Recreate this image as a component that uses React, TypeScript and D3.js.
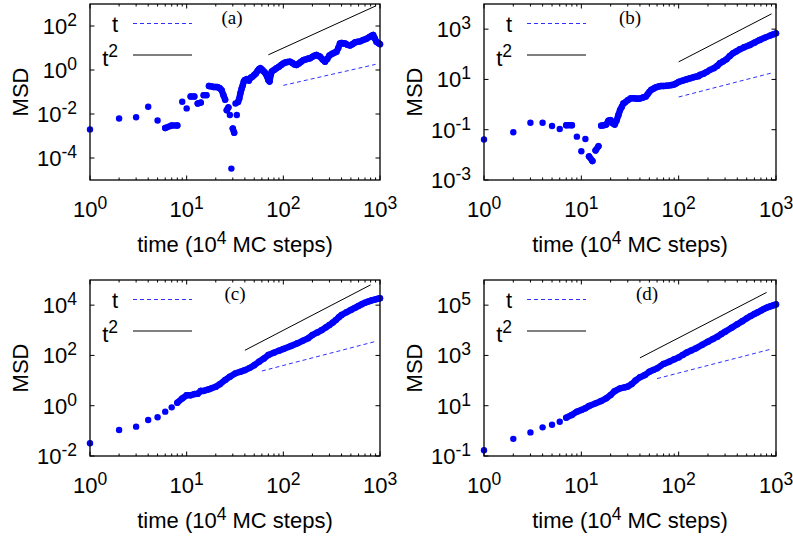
import React from 'react';
import * as d3 from 'd3';

// ---------------- data ----------------
const tA = [1,2,3,4,5,6,7,8,9,10,11,12,13,14,15,16,17,18,19,20,21,22,23,24,25,26,27,28,29,30,31,32,33,34,35,36,37,38,39,40,42,44,46,48,50,52,54,56,58,60,62,64,66,68,70,72,74,76,80,85,90,95,100,105,110,117,124,130,137,145,153,161,170,180,189,200,210,220,230,240,255,270,285,300,320,340,355,370,385,400,420,435,460,490,520,550,580,620,670,720,780,820,850,880,920,960,1000];
const msdA = [0.002,0.0062,0.0071,0.0215,0.0051,0.0023,0.003,0.003,0.036,0.018,0.062,0.062,0.03,0.033,0.072,0.072,0.187,0.18,0.17,0.17,0.165,0.148,0.12,0.072,0.045,0.015,0.02,0.009,3.3e-5,0.0022,0.0014,0.03,0.009,0.035,0.05,0.09,0.14,0.2,0.3,0.35,0.38,0.33,0.45,0.5,0.6,0.7,0.9,1.1,1.2,1.05,0.9,0.8,0.65,0.5,0.35,0.3,0.6,0.85,1.0,1.2,1.4,1.7,2.0,2.2,2.3,2.4,2.1,1.8,1.7,2.0,2.4,2.8,3.0,3.3,3.4,4.0,4.5,4.8,4.4,4.0,3.0,2.4,3.2,4.6,5.5,6.2,6.8,10,16,17,16,16,14,13,15,18,19,20,23,26,32,36,39,28,19,17,15];

const tB = [1,2,3,4,5,6,7,8,9,10,11,12,13,14,15,16,17,18,19,20,21,22,23,24,25,26,27,28,30,32,34,36,38,40,43,46,48,50,52,55,58,62,66,70,75,80,85,90,95,100,110,120,130,140,150,160,165,180,195,210,230,250,265,285,310,335,360,390,425,470,540,600,680,770,870,940,1000];
const msdB = [0.041,0.079,0.19,0.19,0.14,0.107,0.15,0.15,0.053,0.014,0.043,0.0087,0.0057,0.015,0.022,0.145,0.15,0.16,0.23,0.24,0.18,0.16,0.23,0.38,0.61,0.8,1.1,1.2,1.5,1.75,1.8,1.75,1.7,1.75,1.9,2.1,2.6,3.2,3.8,4.3,4.8,5.2,5.5,5.5,5.6,5.8,6.0,6.3,7.0,8.0,9.0,10,11,12,12.8,13.5,15,17,20,24,28,35,44,52,63,85,109,130,158,190,235,290,371,460,553,620,680];

const tC = [1,2,3,4,5,6,7,8,9,10,11,12,13,14,15,16,17,18,20,22,25,28,32,36,40,45,50,56,63,70,80,90,100,120,140,160,180,200,225,250,275,300,325,350,375,400,450,500,550,600,650,700,750,800,850,900,950,1000];
const msdC = [0.032,0.108,0.147,0.27,0.35,0.58,0.86,1.32,1.95,2.6,2.6,2.9,3.0,3.85,3.9,4.2,4.5,4.9,5.7,7.1,10.5,14.3,19.4,22.6,26,32,41,56,76,104,129,155,181,237,303,388,478,650,820,1020,1300,1620,2050,2570,3300,4070,5200,6450,7800,9300,10900,12500,13800,15100,16000,17000,17900,18700];

const tD = [1,2,3,4,5,6,7,8,9,10,11,12,14,16,18,20,22,25,28,30,33,36,40,45,50,55,60,70,80,90,100,110,120,135,150,175,200,225,250,275,300,350,400,450,500,550,600,650,700,750,800,850,900,950,1000];
const msdD = [0.17,0.48,0.87,1.38,1.76,2.3,3.35,4.3,5.8,6.8,7.9,9.8,12.4,15.4,19.6,26.7,38,49,54,58,73,100,135,166,225,265,306,460,565,700,835,1050,1280,1580,1910,2650,3530,4500,5590,7100,8820,12600,17300,23000,29900,37000,44500,52000,60400,70000,79000,86000,92900,100000,107000];

// reference power laws: msd = coef * t^power, drawn from tStart to tEnd
const refT_A = { coef: 0.002, tStart: 100, tEnd: 900 };
const refT2_A = { coef: 0.001, tStart: 70, tEnd: 900 };
const refT_B = { coef: 0.02, tStart: 100, tEnd: 900 };
const refT2_B = { coef: 0.005, tStart: 100, tEnd: 900 };
const refT_C = { coef: 0.4, tStart: 60, tEnd: 900 };
const refT2_C = { coef: 0.1, tStart: 40, tEnd: 800 };
const refT_D = { coef: 2, tStart: 60, tEnd: 900 };
const refT2_D = { coef: 0.5, tStart: 40, tEnd: 800 };

const xTickExps = [0, 1, 2, 3];
const yTickExpsA = [-4, -2, 0, 2];
const yTickExpsB = [-3, -1, 1, 3];
const yTickExpsC = [-2, 0, 2, 4];
const yTickExpsD = [-1, 1, 3, 5];

const panelLabels = ['(a)', '(b)', '(c)', '(d)'];
const legendLabels = ['t', 't2'];
const xAxisTitle = ['time (10', '4', ' MC steps)'];
const yAxisTitle = 'MSD';

// ---------------- drawing ----------------
const SANS = "'Liberation Sans', Arial, Helvetica, sans-serif";
const SERIF = "'Liberation Serif', 'Times New Roman', serif";
const DOT = '#0000ff';
const DASH = '#3030ff';
const FS = 22;
const FSS = 17.5;

type Ref = { coef: number; tStart: number; tEnd: number };
type PanelSpec = {
  left: number; right: number; top: number; bottom: number;
  yDom: [number, number];
  t: number[]; msd: number[];
  yTicks: number[];
  refT: Ref; refT2: Ref;
  label: string; labelX: number;
  joinFrom: number;
};

const panels: PanelSpec[] = [
  { left: 90, right: 380, top: 4, bottom: 180, yDom: [1e-5, 1e3], t: tA, msd: msdA, yTicks: yTickExpsA, refT: refT_A, refT2: refT2_A, label: panelLabels[0], labelX: 232, joinFrom: 36 },
  { left: 484, right: 776, top: 4, bottom: 180, yDom: [1e-3, 1e4], t: tB, msd: msdB, yTicks: yTickExpsB, refT: refT_B, refT2: refT2_B, label: panelLabels[1], labelX: 630, joinFrom: 16 },
  { left: 90, right: 380, top: 280, bottom: 456, yDom: [1e-2, 1e5], t: tC, msd: msdC, yTicks: yTickExpsC, refT: refT_C, refT2: refT2_C, label: panelLabels[2], labelX: 235, joinFrom: 9 },
  { left: 484, right: 776, top: 280, bottom: 456, yDom: [1e-1, 1e6], t: tD, msd: msdD, yTicks: yTickExpsD, refT: refT_D, refT2: refT2_D, label: panelLabels[3], labelX: 647, joinFrom: 9 },
];

function Pow10({ e, x, y, anchor }: { e: number; x: number; y: number; anchor: string }) {
  return (
    <text x={x} y={y} textAnchor={anchor} fontFamily={SANS} fontSize={FS} fill="#000">
      10<tspan dy={-8} fontSize={FSS}>{String(e)}</tspan>
    </text>
  );
}

function Panel({ p }: { p: PanelSpec }) {
  const x = d3.scaleLog().domain([1, 1000]).range([p.left, p.right]);
  const y = d3.scaleLog().domain(p.yDom).range([p.bottom, p.top]);
  const R = 3.2;

  const pts = p.t.map((t, i) => [x(t), y(p.msd[i])] as [number, number]);
  let band = '';
  for (let i = 1; i < pts.length; i++) {
    const [x0, y0] = pts[i - 1];
    const [x1, y1] = pts[i];
    const d = Math.hypot(x1 - x0, y1 - y0);
    const ok = p.t[i - 1] >= p.joinFrom ? d < 16 : d < 7;
    if (ok) band += `M${x0},${y0}L${x1},${y1}`;
  }

  const minor: number[] = [];
  for (let dec = 1; dec < 1000; dec *= 10) for (let k = 2; k <= 9; k++) minor.push(dec * k);

  const refLine = (r: Ref, pw: number) =>
    d3.line<number>().x((t) => x(t)).y((t) => y(r.coef * Math.pow(t, pw)))([r.tStart, r.tEnd]) || '';

  const cx = (p.left + p.right) / 2;
  const cy = (p.top + p.bottom) / 2;

  return (
    <g>
      {/* ticks */}
      {minor.map((m) => (
        <g key={'m' + m}>
          <line x1={x(m)} x2={x(m)} y1={p.bottom} y2={p.bottom - 2.5} stroke="#000" strokeWidth={1} />
          <line x1={x(m)} x2={x(m)} y1={p.top} y2={p.top + 2.5} stroke="#000" strokeWidth={1} />
        </g>
      ))}
      {xTickExps.map((e) => (
        <g key={'x' + e}>
          <line x1={x(10 ** e)} x2={x(10 ** e)} y1={p.bottom} y2={p.bottom - 4.5} stroke="#000" strokeWidth={1} />
          <line x1={x(10 ** e)} x2={x(10 ** e)} y1={p.top} y2={p.top + 4.5} stroke="#000" strokeWidth={1} />
          <Pow10 e={e} x={x(10 ** e)} y={p.bottom + 37} anchor="middle" />
        </g>
      ))}
      {p.yTicks.map((e) => (
        <g key={'y' + e}>
          <line x1={p.left} x2={p.left + 4.5} y1={y(10 ** e)} y2={y(10 ** e)} stroke="#000" strokeWidth={1} />
          <line x1={p.right} x2={p.right - 4.5} y1={y(10 ** e)} y2={y(10 ** e)} stroke="#000" strokeWidth={1} />
          <Pow10 e={e} x={p.left - 13} y={y(10 ** e) + 8} anchor="end" />
        </g>
      ))}

      {/* reference lines */}
      <path d={refLine(p.refT2, 2)} stroke="#000" strokeWidth={1} fill="none" />
      <path d={refLine(p.refT, 1)} stroke={DASH} strokeWidth={1} strokeDasharray="4,3" fill="none" />

      {/* data */}
      <path d={band} stroke={DOT} strokeWidth={R * 2} strokeLinecap="round" strokeLinejoin="round" fill="none" />
      {pts.map(([px, py], i) => (
        <circle key={i} cx={px} cy={py} r={R} fill={DOT} />
      ))}

      {/* frame */}
      <rect x={p.left} y={p.top} width={p.right - p.left} height={p.bottom - p.top} fill="none" stroke="#000" strokeWidth={1.3} />

      {/* legend */}
      <text x={p.left + 28} y={p.top + 27.5} textAnchor="end" fontFamily={SANS} fontSize={FS}>{legendLabels[0]}</text>
      <line x1={p.left + 43} x2={p.left + 102} y1={p.top + 19.5} y2={p.top + 19.5} stroke={DASH} strokeWidth={1.2} strokeDasharray="4,3" />
      <text x={p.left + 28} y={p.top + 62} textAnchor="end" fontFamily={SANS} fontSize={FS}>
        {legendLabels[1][0]}<tspan dy={-9} fontSize={FSS}>{legendLabels[1][1]}</tspan>
      </text>
      <line x1={p.left + 43} x2={p.left + 102} y1={p.top + 51} y2={p.top + 51} stroke="#000" strokeWidth={1} />

      {/* panel label */}
      <text x={p.labelX} y={p.top + 20} textAnchor="middle" fontFamily={SERIF} fontSize={19}>{p.label}</text>

      {/* axis titles */}
      <text x={cx} y={p.bottom + 72} textAnchor="middle" fontFamily={SANS} fontSize={FS}>
        {xAxisTitle[0]}<tspan dy={-8} fontSize={FSS}>{xAxisTitle[1]}</tspan><tspan dy={8}>{xAxisTitle[2]}</tspan>
      </text>
      <text transform={`translate(${p.left - 62},${cy}) rotate(-90)`} textAnchor="middle" fontFamily={SANS} fontSize={FS}>{yAxisTitle}</text>
    </g>
  );
}

export default function App() {
  return (
    <svg width={793} height={542} viewBox="0 0 793 542" style={{ position: 'absolute', left: 0, top: 0, background: '#fff' }}>
      <rect width={793} height={542} fill="#fff" />
      {panels.map((p, i) => (
        <Panel key={i} p={p} />
      ))}
    </svg>
  );
}
